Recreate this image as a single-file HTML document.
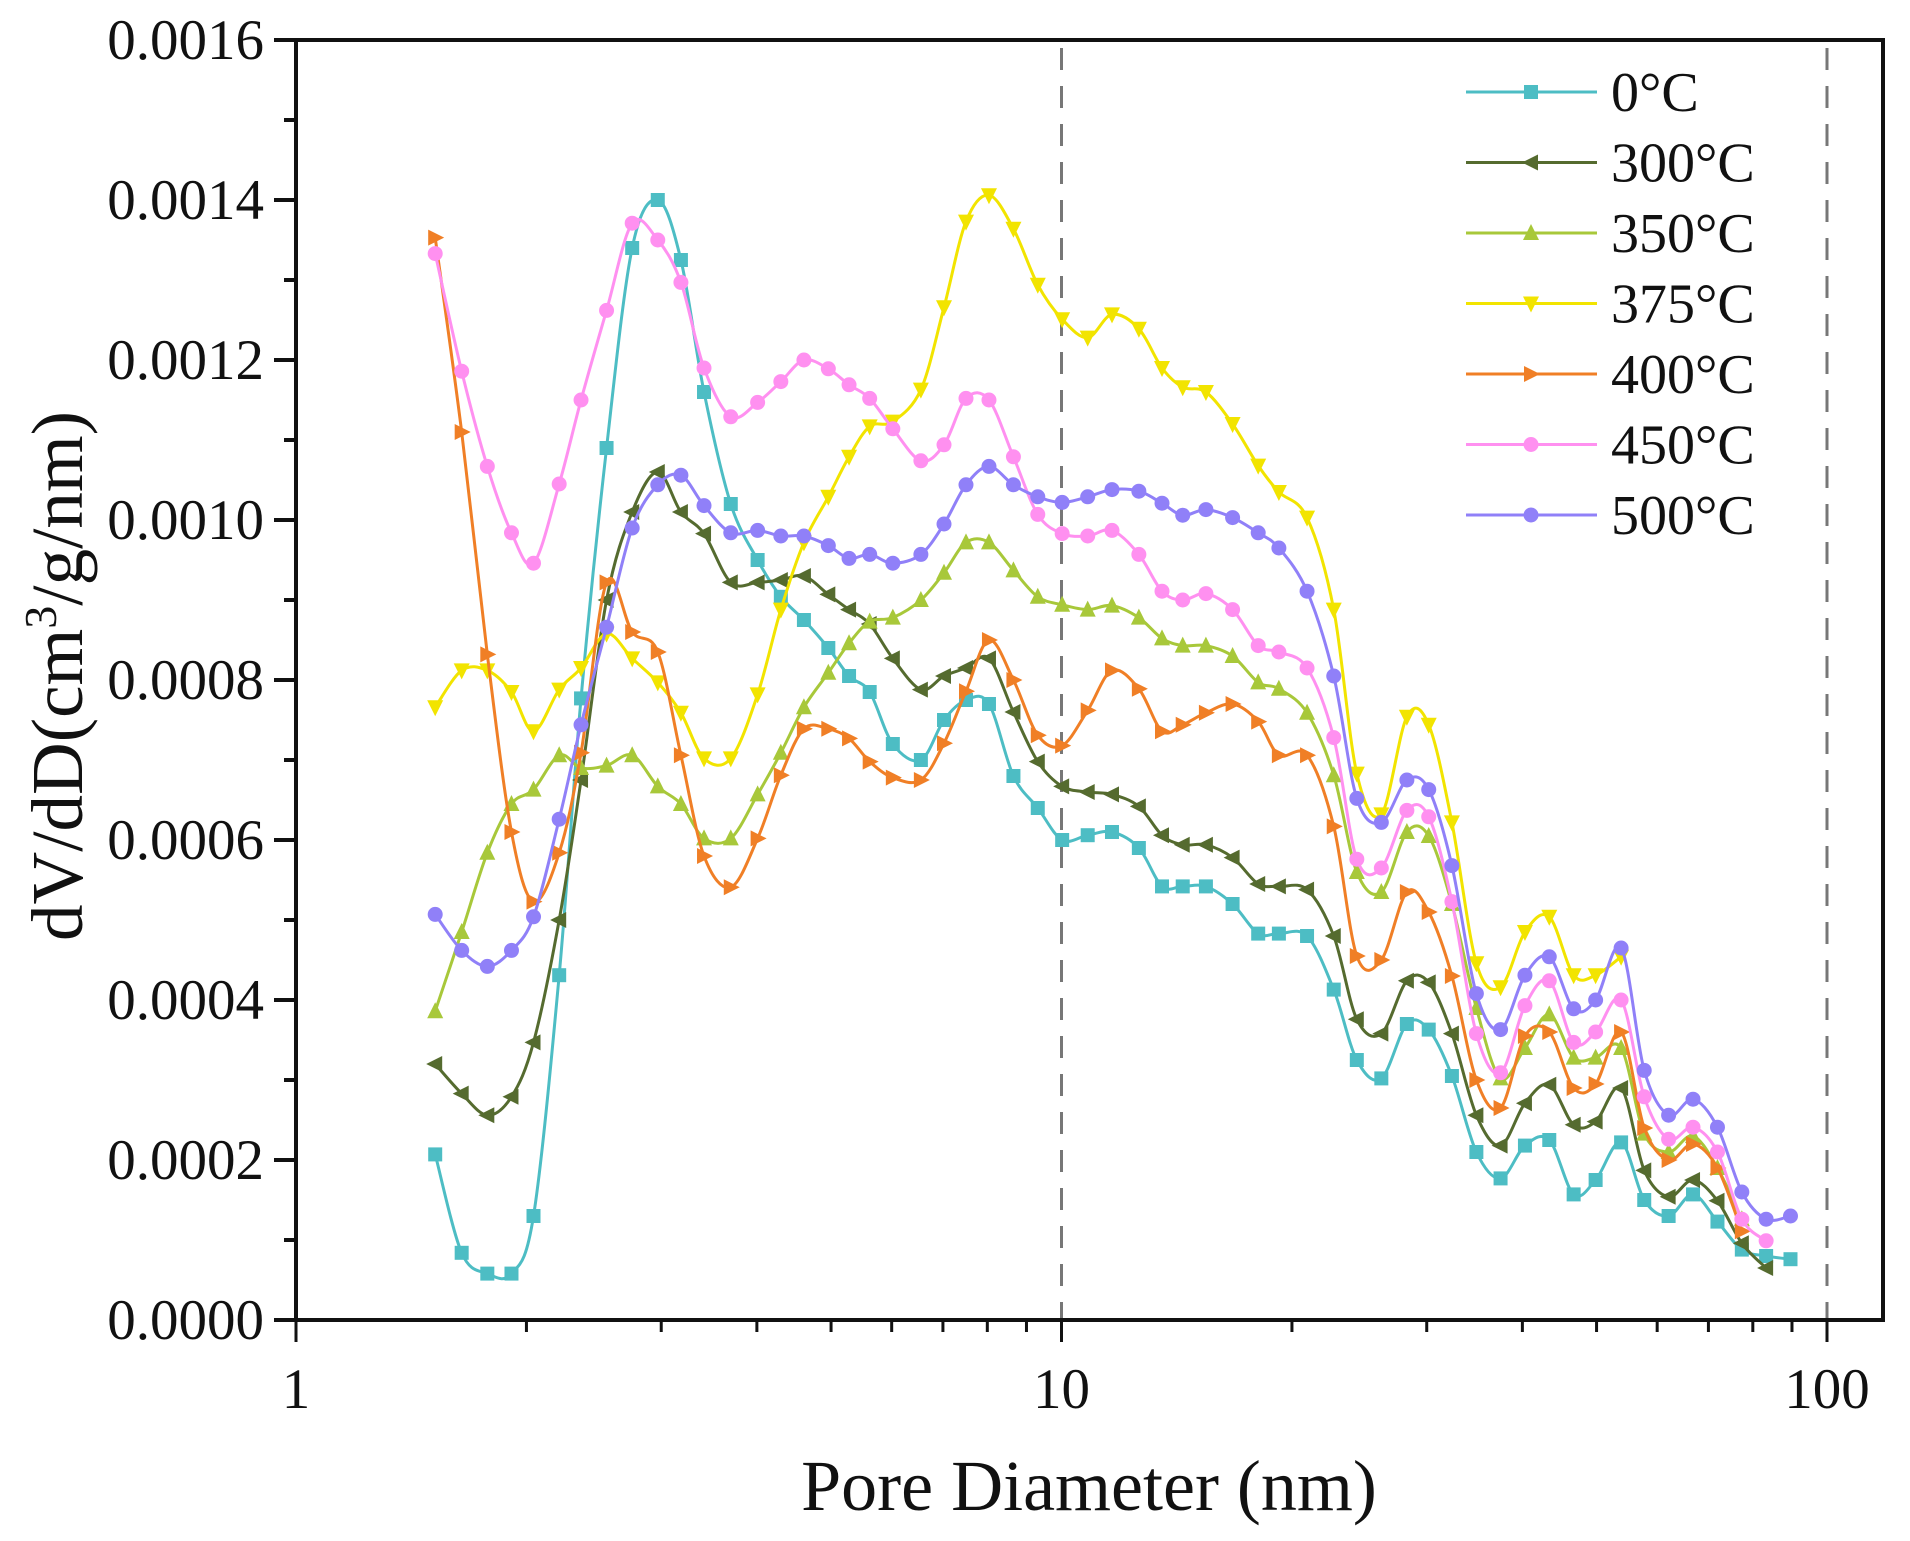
<!DOCTYPE html>
<html><head><meta charset="utf-8"><style>
html,body{margin:0;padding:0;background:#fff;}
svg{display:block;font-family:"Liberation Serif",serif;}
</style></head><body>
<svg id="chart" width="1910" height="1541" viewBox="0 0 1910 1541" xmlns="http://www.w3.org/2000/svg"></svg>
<script>
const diameters=[1.52,1.646,1.778,1.912,2.043,2.207,2.357,2.545,2.749,2.969,3.183,3.412,3.698,4.009,4.299,4.608,4.959,5.278,5.616,6.021,6.551,7.023,7.503,8.04,8.654,9.311,10.02,10.82,11.64,12.62,13.53,14.4,15.44,16.73,18.07,19.23,20.93,22.68,24.31,26.17,28.26,30.18,32.36,34.83,37.46,40.31,43.37,46.67,49.86,53.83,57.71,62.1,66.83,71.93,77.4,83.27,89.6];
// values in units of 1e-4 cm3/g/nm
const s0=[2.07,0.84,0.58,0.58,1.3,4.31,7.77,10.9,13.4,14.0,13.25,11.6,10.2,9.5,9.04,8.75,8.4,8.05,7.85,7.2,7.0,7.5,7.75,7.7,6.8,6.4,6.0,6.06,6.1,5.9,5.42,5.42,5.42,5.2,4.83,4.83,4.8,4.13,3.25,3.02,3.7,3.63,3.05,2.1,1.77,2.18,2.25,1.57,1.75,2.22,1.5,1.3,1.57,1.23,0.88,0.8,0.76];
const s300=[3.2,2.83,2.56,2.79,3.47,5.0,6.75,9.0,10.1,10.6,10.1,9.83,9.22,9.22,9.25,9.3,9.07,8.88,8.7,8.27,7.88,8.05,8.15,8.27,7.6,6.98,6.67,6.6,6.57,6.42,6.06,5.94,5.94,5.78,5.45,5.42,5.38,4.8,3.76,3.58,4.24,4.22,3.58,2.56,2.18,2.71,2.94,2.44,2.48,2.9,1.87,1.54,1.75,1.49,0.96,0.65,null];
const s350=[3.86,4.85,5.84,6.45,6.63,7.06,6.9,6.93,7.06,6.67,6.45,6.02,6.02,6.57,7.09,7.66,8.09,8.46,8.73,8.78,9.0,9.34,9.72,9.72,9.37,9.04,8.94,8.88,8.93,8.78,8.52,8.43,8.43,8.3,7.97,7.89,7.59,6.81,5.6,5.35,6.1,6.05,5.2,3.9,3.02,3.4,3.82,3.28,3.28,3.4,2.33,2.1,2.3,1.9,1.26,null,null];
const s375=[7.66,8.12,8.12,7.85,7.36,7.88,8.15,8.58,8.27,7.97,7.59,7.02,7.02,7.82,8.88,9.72,10.29,10.79,11.17,11.23,11.63,12.66,13.73,14.06,13.64,12.94,12.51,12.28,12.57,12.39,11.9,11.66,11.6,11.2,10.68,10.35,10.03,8.88,6.83,6.32,7.54,7.44,6.22,4.46,4.16,4.85,5.04,4.31,4.31,4.54,null,null,null,null,null,null,null];
const s400=[13.53,11.1,8.32,6.1,5.23,5.84,7.09,9.22,8.6,8.35,7.06,5.8,5.41,6.02,6.81,7.39,7.39,7.27,6.98,6.78,6.75,7.21,7.86,8.5,8.0,7.31,7.18,7.62,8.12,7.89,7.36,7.44,7.59,7.7,7.48,7.06,7.06,6.17,4.55,4.5,5.35,5.1,4.3,3.0,2.65,3.55,3.6,2.9,2.95,3.6,2.4,2.0,2.2,1.9,1.11,null,null];
const s450=[13.33,11.86,10.67,9.84,9.46,10.45,11.5,12.62,13.71,13.5,12.97,11.9,11.29,11.47,11.73,12.0,11.89,11.69,11.52,11.14,10.74,10.94,11.52,11.5,10.79,10.07,9.83,9.8,9.87,9.57,9.11,9.0,9.08,8.88,8.43,8.35,8.15,7.28,5.76,5.65,6.37,6.29,5.23,3.58,3.09,3.93,4.24,3.47,3.6,4.0,2.79,2.26,2.41,2.1,1.26,0.99,null];
const s500=[5.07,4.62,4.42,4.62,5.04,6.26,7.44,8.66,9.9,10.44,10.56,10.18,9.84,9.87,9.8,9.8,9.68,9.52,9.57,9.46,9.57,9.95,10.44,10.67,10.44,10.29,10.22,10.29,10.38,10.36,10.21,10.06,10.13,10.03,9.84,9.65,9.11,8.05,6.52,6.22,6.75,6.63,5.68,4.08,3.63,4.31,4.54,3.89,4.0,4.65,3.12,2.56,2.76,2.41,1.6,1.26,1.3];
const seriesNames=["0°C","300°C","350°C","375°C","400°C","450°C","500°C"];
const yTickLabels=["0.0000","0.0002","0.0004","0.0006","0.0008","0.0010","0.0012","0.0014","0.0016"];
const xTickLabels=["1","10","100"];

const L=296,R=1883,T=40,B=1320;
const X=d=>L+(Math.log10(d))*765.5;
const Y=v=>B-(v/16)*(B-T);
const NS="http://www.w3.org/2000/svg";
const svg=document.getElementById('chart');
function el(tag,attrs,parent){const e=document.createElementNS(NS,tag);for(const k in attrs)e.setAttribute(k,attrs[k]);(parent||svg).appendChild(e);return e;}

[10,100].forEach(d=>{
  const g=el('line',{x1:X(d),x2:X(d),y1:T+8,y2:B,stroke:'#777','stroke-width':3,'stroke-dasharray':'22,16'});
  
  
});

const colors=['#4dbdc4','#556b2f','#a8c83a','#f2e400','#f07f26','#ff90f0','#9080f8'];
const markers=['square','left','up','down','right','circle','circle'];
const data=[s0,s300,s350,s375,s400,s450,s500];

function marker(type,x,y,c,parent){
  const s=7;let m;
  if(type==='square') m=el('rect',{x:x-s,y:y-s,width:2*s,height:2*s,fill:c},parent);
  else if(type==='circle') m=el('circle',{cx:x,cy:y,r:s+0.5,fill:c},parent);
  else{
    let p;
    if(type==='up') p=[[x,y-s-2],[x-s-1,y+s],[x+s+1,y+s]];
    if(type==='down') p=[[x,y+s+2],[x-s-1,y-s],[x+s+1,y-s]];
    if(type==='left') p=[[x-s-2,y],[x+s,y-s-1],[x+s,y+s+1]];
    if(type==='right') p=[[x+s+2,y],[x-s,y-s-1],[x-s,y+s+1]];
    m=el('polygon',{points:p.map(q=>q.join(',')).join(' '),fill:c},parent);
  }
  return m;
}
function smoothPath(pts){
  let d='M'+pts[0][0]+','+pts[0][1];
  for(let i=0;i<pts.length-1;i++){
    const p0=pts[i-1]||pts[i],p1=pts[i],p2=pts[i+1],p3=pts[i+2]||p2;
    const c1=[p1[0]+(p2[0]-p0[0])/6,p1[1]+(p2[1]-p0[1])/6];
    const c2=[p2[0]-(p3[0]-p1[0])/6,p2[1]-(p3[1]-p1[1])/6];
    d+=' C'+c1[0]+','+c1[1]+' '+c2[0]+','+c2[1]+' '+p2[0]+','+p2[1];
  }
  return d;
}
data.forEach((arr,si)=>{
  const g=el('g',{});
  
  
  const pts=[];
  arr.forEach((v,i)=>{if(v!==null)pts.push([X(diameters[i]),Y(v)]);});
  const p=el('path',{d:smoothPath(pts),fill:'none',stroke:colors[si],'stroke-width':3,'stroke-linejoin':'round'},g);
  
  
  pts.forEach(q=>{
    const m=marker(markers[si],q[0],q[1],colors[si],g);
    
    
  });
});

const box=el('rect',{x:L,y:T,width:R-L,height:B-T,fill:'none',stroke:'#111','stroke-width':4});



for(let i=0;i<=16;i++){
  const y=Y(i);
  const major=i%2===0;
  const t=el('line',{x1:L-(major?22:12),x2:L,y1:y,y2:y,stroke:'#111','stroke-width':4});
  
  
  if(major){
    const tx=el('text',{x:L-32,y:y+19,'text-anchor':'end','font-size':57,fill:'#111'});
    tx.textContent=yTickLabels[i/2];
    
    
  }
}
for(let dec=0;dec<2;dec++){
  for(let k=1;k<=9;k++){
    const d=Math.pow(10,dec)*k;
    const x=X(d);
    const major=k===1;
    const t=el('line',{x1:x,x2:x,y1:B,y2:B+(major?22:12),stroke:'#111','stroke-width':3});
    
    
  }
}
const t100=el('line',{x1:X(100),x2:X(100),y1:B,y2:B+22,stroke:'#111','stroke-width':3});


xTickLabels.forEach((lab,i)=>{
  const tx=el('text',{x:X(Math.pow(10,i)),y:1408,'text-anchor':'middle','font-size':57,fill:'#111'});
  tx.textContent=lab;
  
  
});
const xt=el('text',{x:1089,y:1510,'text-anchor':'middle','font-size':72,fill:'#111'});
xt.textContent='Pore Diameter (nm)';


const yt=el('text',{x:0,y:0,'text-anchor':'middle','font-size':73,fill:'#111',transform:'translate(82,676) rotate(-90)'});
yt.innerHTML='dV/dD(cm<tspan dy="-26" font-size="46">3</tspan><tspan dy="26">/g/nm)</tspan>';



const lg=el('g',{});


seriesNames.forEach((n,i)=>{
  const y=92+i*70.5;
  const e=el('g',{},lg);
  
  
  el('line',{x1:1466,x2:1597,y1:y,y2:y,stroke:colors[i],'stroke-width':3},e);
  marker(markers[i],1531,y,colors[i],e);
  const tx=el('text',{x:1611,y:y+19,'font-size':56,fill:'#111'},e);
  tx.textContent=n;
});
</script>
</body></html>
